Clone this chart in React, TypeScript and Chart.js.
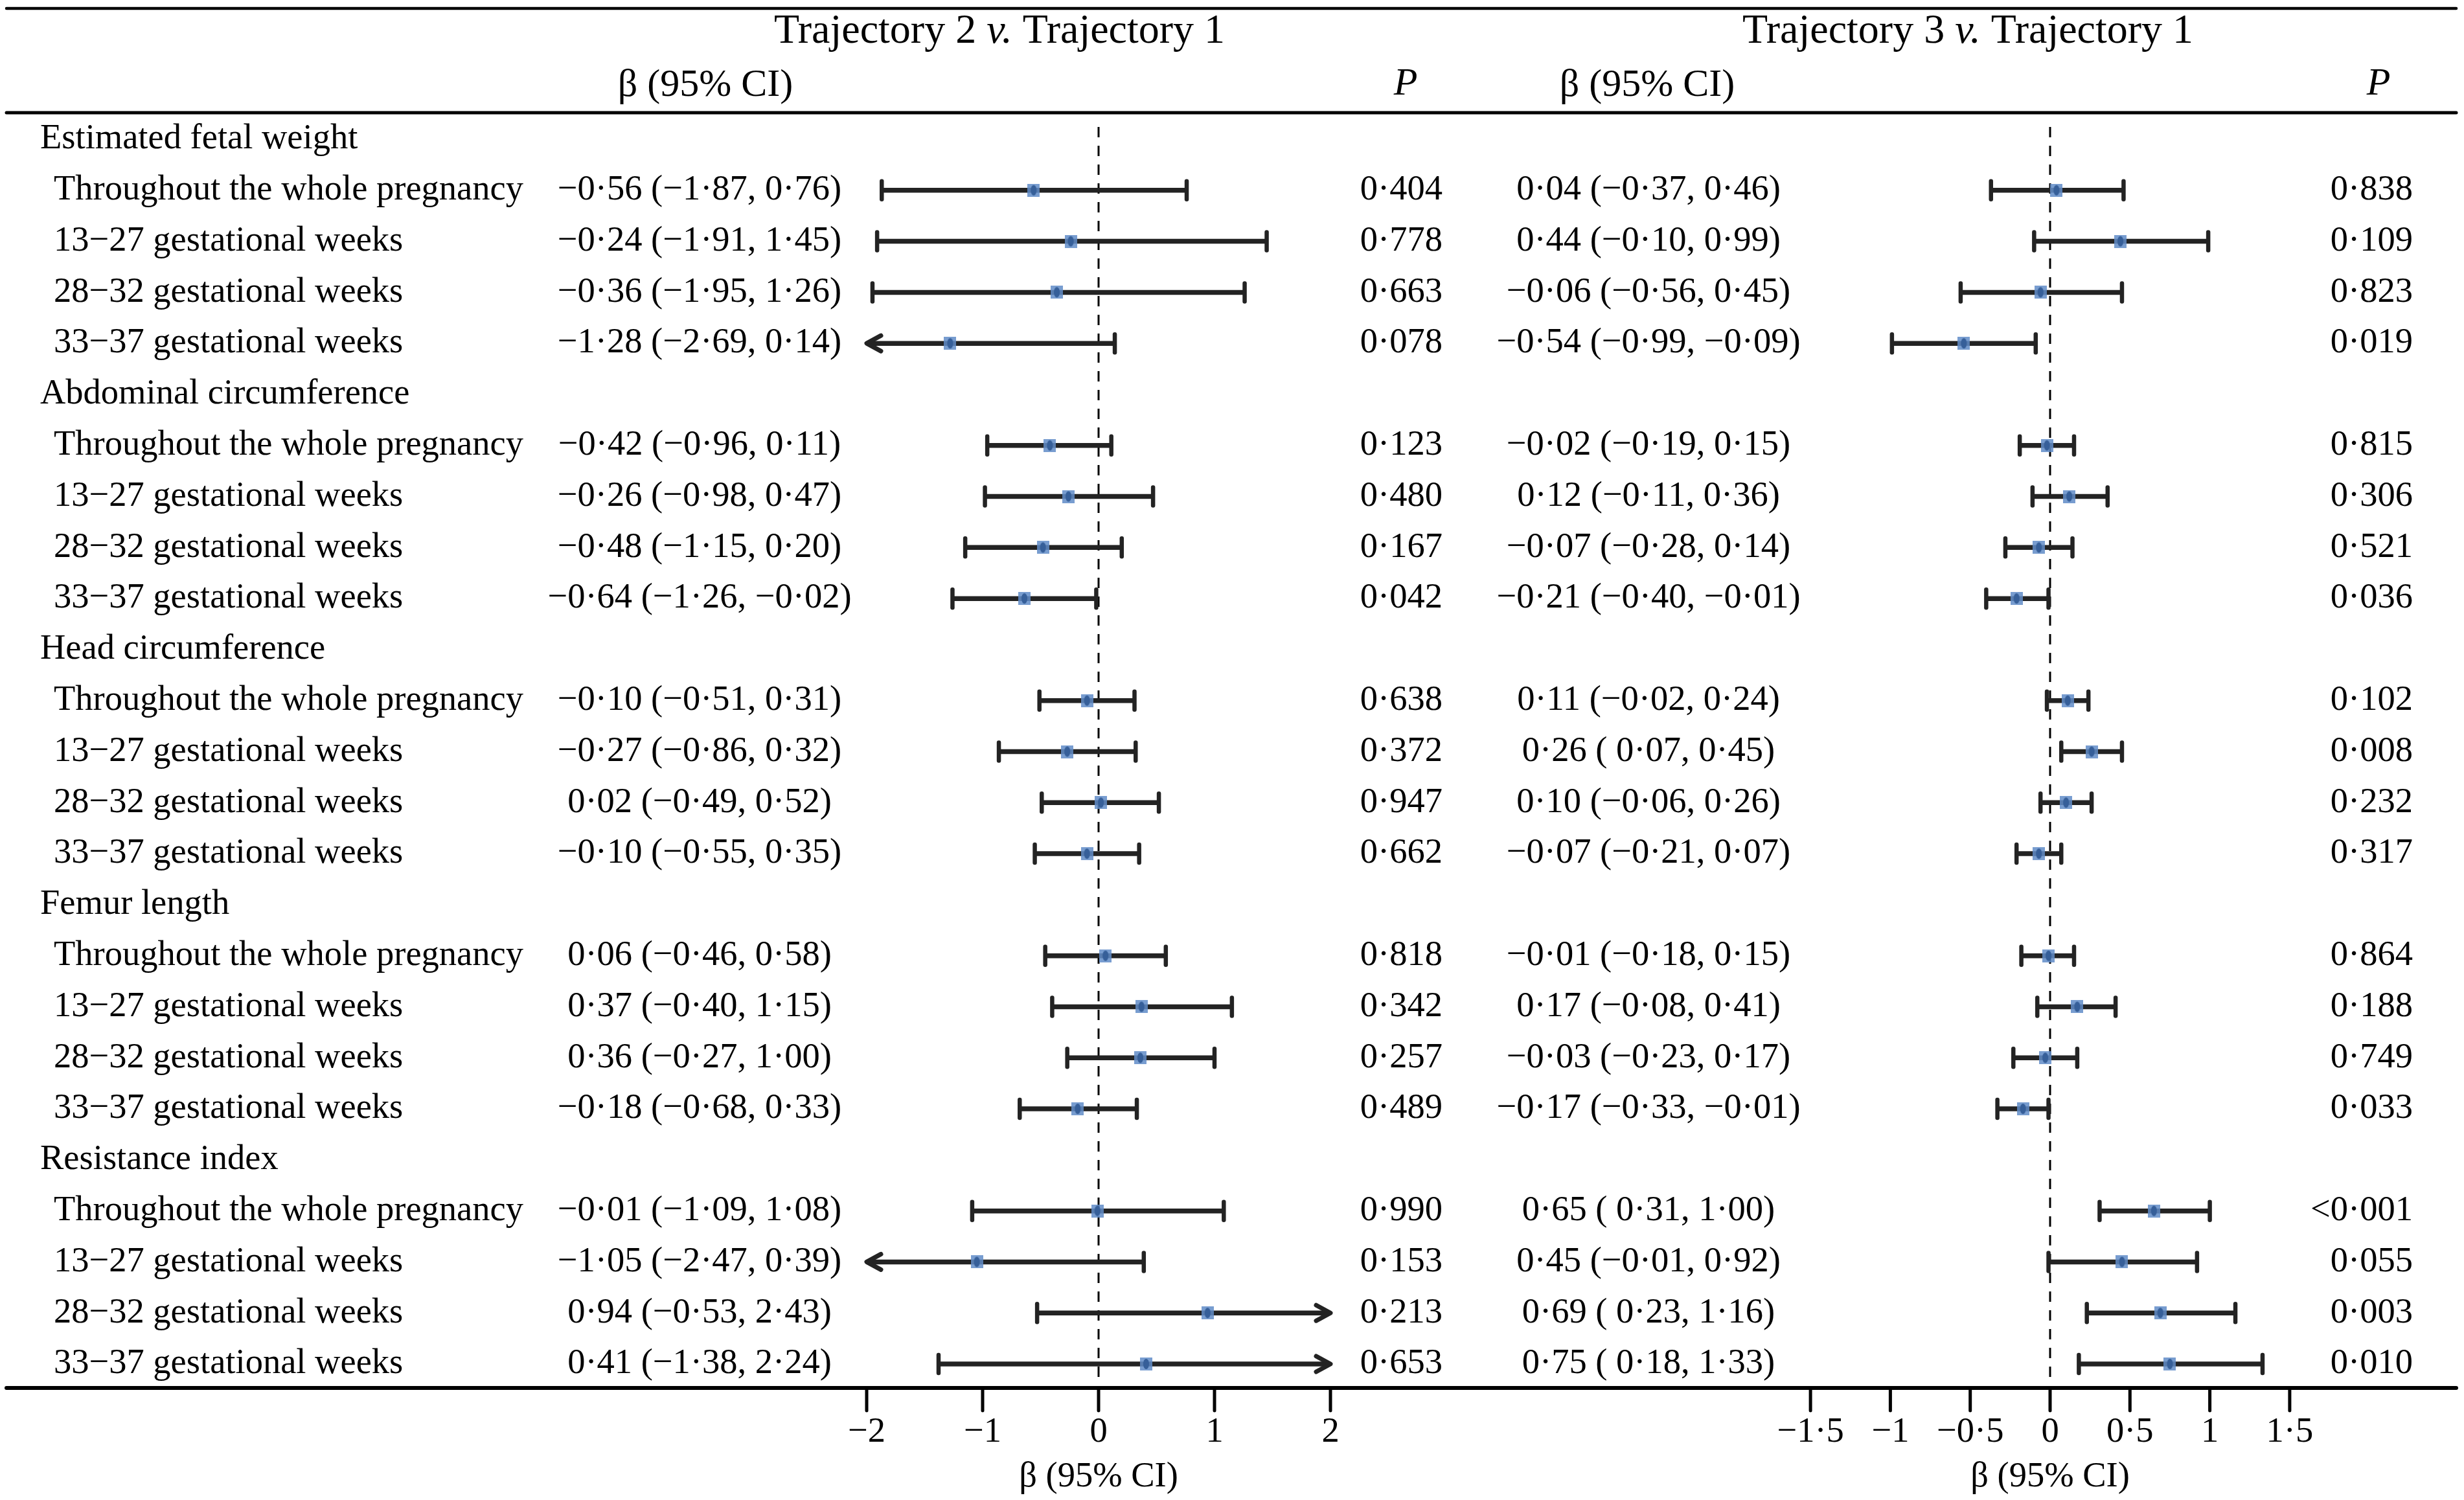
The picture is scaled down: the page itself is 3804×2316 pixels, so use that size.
import React, { useEffect, useRef } from "react";
import { Chart, registerables } from "chart.js";

Chart.register(...registerables);

// ---------------- data ----------------
const groupLabels = [
  "Estimated fetal weight",
  "Abdominal circumference",
  "Head circumference",
  "Femur length",
  "Resistance index",
];
const periodLabels = [
  "Throughout the whole pregnancy",
  "13\u221227 gestational weeks",
  "28\u221232 gestational weeks",
  "33\u221237 gestational weeks",
];

// Trajectory 2 v. Trajectory 1
const t2Beta = [-0.56, -0.24, -0.36, -1.28, -0.42, -0.26, -0.48, -0.64, -0.1, -0.27, 0.02, -0.1, 0.06, 0.37, 0.36, -0.18, -0.01, -1.05, 0.94, 0.41];
const t2Lower = [-1.87, -1.91, -1.95, -2.69, -0.96, -0.98, -1.15, -1.26, -0.51, -0.86, -0.49, -0.55, -0.46, -0.4, -0.27, -0.68, -1.09, -2.47, -0.53, -1.38];
const t2Upper = [0.76, 1.45, 1.26, 0.14, 0.11, 0.47, 0.2, -0.02, 0.31, 0.32, 0.52, 0.35, 0.58, 1.15, 1.0, 0.33, 1.08, 0.39, 2.43, 2.24];
const t2P = ["0·404", "0·778", "0·663", "0·078", "0·123", "0·480", "0·167", "0·042", "0·638", "0·372", "0·947", "0·662", "0·818", "0·342", "0·257", "0·489", "0·990", "0·153", "0·213", "0·653"];

// Trajectory 3 v. Trajectory 1
const t3Beta = [0.04, 0.44, -0.06, -0.54, -0.02, 0.12, -0.07, -0.21, 0.11, 0.26, 0.1, -0.07, -0.01, 0.17, -0.03, -0.17, 0.65, 0.45, 0.69, 0.75];
const t3Lower = [-0.37, -0.1, -0.56, -0.99, -0.19, -0.11, -0.28, -0.4, -0.02, 0.07, -0.06, -0.21, -0.18, -0.08, -0.23, -0.33, 0.31, -0.01, 0.23, 0.18];
const t3Upper = [0.46, 0.99, 0.45, -0.09, 0.15, 0.36, 0.14, -0.01, 0.24, 0.45, 0.26, 0.07, 0.15, 0.41, 0.17, -0.01, 1.0, 0.92, 1.16, 1.33];
const t3P = ["0·838", "0·109", "0·823", "0·019", "0·815", "0·306", "0·521", "0·036", "0·102", "0·008", "0·232", "0·317", "0·864", "0·188", "0·749", "0·033", "<0·001", "0·055", "0·003", "0·010"];

const t2Ticks = [-2, -1, 0, 1, 2];
const t3Ticks = [-1.5, -1, -0.5, 0, 0.5, 1, 1.5];
const t2Range = [-2, 2];
const t3Range = [-1.5, 1.5];

const axisTitle = "β (95% CI)";
const pHeader = "P";

// ---------------- helpers ----------------
const W = 3804;
const H = 2316;
const FONT = '"Liberation Serif", "Times New Roman", Times, serif';

const rowOf = (i: number) => Math.floor(i / 4) * 5 + (i % 4) + 1;
const fmt = (v: number) => (v < 0 ? "\u2212" : "") + Math.abs(v).toFixed(2).replace(".", "·");
const ciText = (b: number, lo: number, hi: number) =>
  `${fmt(b)} (${lo >= 0 ? " " : ""}${fmt(lo)}, ${fmt(hi)})`;
const tickText = (v: number) => (v < 0 ? "\u2212" : "") + String(Math.abs(v)).replace(".", "·");

function makeMarker(): HTMLCanvasElement {
  const c = document.createElement("canvas");
  c.width = 19;
  c.height = 20;
  const g = c.getContext("2d")!;
  g.fillStyle = "rgba(96,140,200,0.85)";
  g.fillRect(0, 0, 19, 20);
  g.fillStyle = "#365f99";
  g.beginPath();
  g.ellipse(9.5, 10, 4.5, 8, 0, 0, Math.PI * 2);
  g.fill();
  return c;
}

const forestPlugin = {
  id: "forestDecor",
  beforeDatasetsDraw(chart: any) {
    const ctx: CanvasRenderingContext2D = chart.ctx;
    const y = chart.scales.y;
    const panels = [
      { sc: chart.scales.x, b: t2Beta, lo: t2Lower, hi: t2Upper, range: t2Range },
      { sc: chart.scales.x2, b: t3Beta, lo: t3Lower, hi: t3Upper, range: t3Range },
    ];
    ctx.save();
    // reference dashed lines
    for (const p of panels) {
      const x0 = p.sc.getPixelForValue(0);
      ctx.strokeStyle = "#000";
      ctx.lineWidth = 3;
      ctx.setLineDash([16, 13]);
      ctx.beginPath();
      ctx.moveTo(x0, y.getPixelForValue(-0.24));
      ctx.lineTo(x0, y.getPixelForValue(24.28));
      ctx.stroke();
    }
    ctx.setLineDash([]);
    // error bars
    for (const p of panels) {
      for (let i = 0; i < p.b.length; i++) {
        const py = y.getPixelForValue(rowOf(i));
        const lowClip = p.lo[i] < p.range[0];
        const highClip = p.hi[i] > p.range[1];
        const xl = p.sc.getPixelForValue(lowClip ? p.range[0] : p.lo[i]);
        const xr = p.sc.getPixelForValue(highClip ? p.range[1] : p.hi[i]);
        ctx.strokeStyle = "#232323";
        ctx.lineWidth = 7.5;
        ctx.lineCap = "butt";
        ctx.beginPath();
        ctx.moveTo(xl, py);
        ctx.lineTo(xr, py);
        ctx.stroke();
        ctx.lineCap = "round";
        ctx.lineJoin = "round";
        ctx.lineWidth = 6.5;
        const cap = (x: number) => {
          ctx.beginPath();
          ctx.moveTo(x, py - 14);
          ctx.lineTo(x, py + 14);
          ctx.stroke();
        };
        const arrow = (x: number, dir: number) => {
          ctx.lineWidth = 7;
          ctx.beginPath();
          ctx.moveTo(x - dir * 22, py - 12);
          ctx.lineTo(x, py);
          ctx.lineTo(x - dir * 22, py + 12);
          ctx.stroke();
          ctx.lineWidth = 6.5;
        };
        if (lowClip) arrow(xl, -1);
        else cap(xl);
        if (highClip) arrow(xr, 1);
        else cap(xr);
      }
    }
    ctx.restore();
  },
  afterDraw(chart: any) {
    const ctx: CanvasRenderingContext2D = chart.ctx;
    const y = chart.scales.y;
    const xs = chart.scales.x;
    const xs2 = chart.scales.x2;
    const area = chart.chartArea;
    ctx.save();
    ctx.strokeStyle = "#000";
    ctx.lineCap = "round";
    // rules
    const rule = (yy: number, w: number) => {
      ctx.lineWidth = w;
      ctx.beginPath();
      ctx.moveTo(10, yy);
      ctx.lineTo(3792, yy);
      ctx.stroke();
    };
    rule(13, 4.5);
    rule(area.top, 5);
    rule(area.bottom, 6);

    ctx.fillStyle = "#000";
    ctx.textBaseline = "middle";

    // titles
    const title = (cx: number, a: string, b: string) => {
      const f = `64px ${FONT}`;
      const fi = `italic 64px ${FONT}`;
      const t1 = `Trajectory ${a} `;
      const t3 = ` Trajectory ${b}`;
      ctx.font = f;
      const w1 = ctx.measureText(t1).width;
      const w3 = ctx.measureText(t3).width;
      ctx.font = fi;
      const w2 = ctx.measureText("v.").width;
      let x = cx - (w1 + w2 + w3) / 2;
      ctx.textAlign = "left";
      ctx.font = f;
      ctx.fillText(t1, x, 49);
      x += w1;
      ctx.font = fi;
      ctx.fillText("v.", x, 49);
      x += w2;
      ctx.font = f;
      ctx.fillText(t3, x, 49);
    };
    title(1543, "2", "1");
    title(3038, "3", "1");

    ctx.textAlign = "center";
    ctx.font = `60px ${FONT}`;
    ctx.fillText(axisTitle, 1089, 132);
    ctx.fillText(axisTitle, 2543, 132);
    ctx.font = `italic 60px ${FONT}`;
    ctx.fillText(pHeader, 2170, 130);
    ctx.fillText(pHeader, 3672, 130);

    // row texts
    ctx.font = `54.5px ${FONT}`;
    for (let g = 0; g < groupLabels.length; g++) {
      ctx.textAlign = "left";
      ctx.fillText(groupLabels[g], 62, y.getPixelForValue(g * 5));
    }
    for (let i = 0; i < t2Beta.length; i++) {
      const py = y.getPixelForValue(rowOf(i));
      ctx.textAlign = "left";
      ctx.fillText(periodLabels[i % 4], 83, py);
      ctx.textAlign = "center";
      ctx.fillText(ciText(t2Beta[i], t2Lower[i], t2Upper[i]), 1080, py);
      ctx.fillText(ciText(t3Beta[i], t3Lower[i], t3Upper[i]), 2545, py);
      ctx.textAlign = "right";
      ctx.fillText(t2P[i], 2227, py);
      ctx.fillText(t3P[i], 3725, py);
    }

    // axes ticks
    const drawAxis = (sc: any, ticks: number[]) => {
      ctx.lineWidth = 5;
      ctx.lineCap = "round";
      ctx.textAlign = "center";
      ctx.font = `54.5px ${FONT}`;
      for (const t of ticks) {
        const px = sc.getPixelForValue(t);
        ctx.beginPath();
        ctx.moveTo(px, area.bottom);
        ctx.lineTo(px, area.bottom + 35);
        ctx.stroke();
        ctx.fillText(tickText(t), px, area.bottom + 69);
      }
      ctx.fillText(axisTitle, sc.getPixelForValue(0), area.bottom + 138);
    };
    drawAxis(xs, t2Ticks);
    drawAxis(xs2, t3Ticks);
    ctx.restore();
  },
};

export default function App() {
  const ref = useRef<HTMLCanvasElement | null>(null);
  useEffect(() => {
    const canvas = ref.current;
    if (!canvas) return;
    const marker = makeMarker();
    const t2Zero = 1696;
    const t2Unit = 179;
    const t3Zero = 3165;
    const t3Unit = 246.6;
    const top = 174;
    const bottom = 2143;
    const row0 = 215;
    const rowLast = 2106;
    const rowStep = (rowLast - row0) / 24;
    const chart = new Chart(canvas, {
      type: "scatter",
      data: {
        datasets: [
          {
            label: "Trajectory 2 v. Trajectory 1",
            data: t2Beta.map((b, i) => ({ x: b, y: rowOf(i) })),
            xAxisID: "x",
            yAxisID: "y",
            pointStyle: marker as any,
            pointRadius: 10,
          },
          {
            label: "Trajectory 3 v. Trajectory 1",
            data: t3Beta.map((b, i) => ({ x: b, y: rowOf(i) })),
            xAxisID: "x2",
            yAxisID: "y",
            pointStyle: marker as any,
            pointRadius: 10,
          },
        ],
      },
      options: {
        responsive: false,
        devicePixelRatio: 1,
        animation: false,
        events: [],
        layout: { autoPadding: false, padding: { top, bottom: H - bottom, left: 0, right: 0 } },
        plugins: { legend: { display: false }, tooltip: { enabled: false } },
        scales: {
          x: {
            type: "linear",
            display: false,
            bounds: "data",
            min: -t2Zero / t2Unit,
            max: (W - t2Zero) / t2Unit,
          },
          x2: {
            type: "linear",
            display: false,
            bounds: "data",
            min: -t3Zero / t3Unit,
            max: (W - t3Zero) / t3Unit,
          },
          y: {
            type: "linear",
            display: false,
            reverse: true,
            bounds: "data",
            min: -(row0 - top) / rowStep,
            max: 24 + (bottom - rowLast) / rowStep,
          },
        },
      },
      plugins: [forestPlugin],
    } as any);
    return () => chart.destroy();
  }, []);
  return (
    <canvas
      ref={ref}
      width={W}
      height={H}
      style={{ position: "fixed", left: 0, top: 0, width: W, height: H, background: "#fff" }}
    />
  );
}
